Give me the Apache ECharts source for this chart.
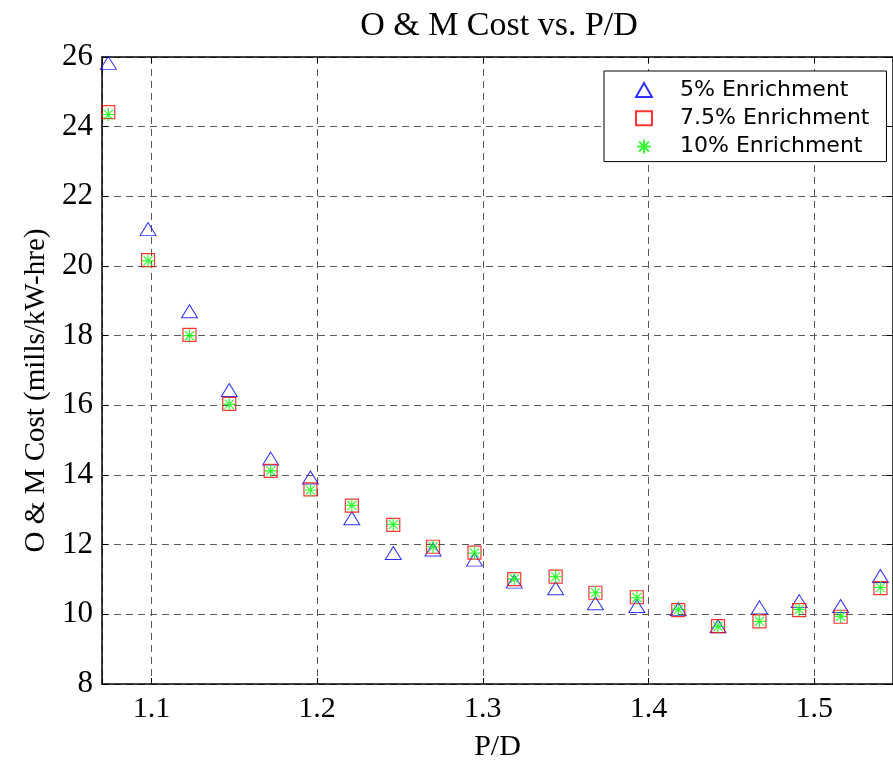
<!DOCTYPE html>
<html>
<head>
<meta charset="utf-8">
<script src="https://cdn.jsdelivr.net/npm/echarts@6/dist/echarts.min.js"></script>
<style>
  html, body { margin: 0; padding: 0; background: #fff; }
  #chart { width: 893px; height: 760px; }
</style>
</head>
<body>
<div id="chart"></div>
<script>
// Pitch-to-diameter ratios of the studied lattices
const pdRatio = [1.074, 1.098, 1.123, 1.147, 1.172, 1.196, 1.221, 1.246, 1.270, 1.295,
                 1.319, 1.344, 1.368, 1.393, 1.418, 1.442, 1.467, 1.491, 1.516, 1.540];

// O & M cost (mills/kW-hre) for each fuel enrichment
const cost5 = [25.83, 21.06, 18.70, 16.44, 14.47, 13.93, 12.76, 11.76, 11.86, 11.57,
               10.94, 10.75, 10.32, 10.24, 10.15, 9.66, 10.20, 10.38, 10.24, 11.10];
const cost75 = [24.42, 20.17, 18.02, 16.04, 14.12, 13.59, 13.12, 12.57, 11.94, 11.77,
                11.01, 11.08, 10.62, 10.49, 10.12, 9.66, 9.80, 10.12, 9.93, 10.75];
const cost10 = [24.35, 20.15, 18.00, 16.03, 14.12, 13.57, 13.13, 12.58, 11.94, 11.76,
                11.02, 11.08, 10.62, 10.48, 10.14, 9.65, 9.80, 10.14, 9.94, 10.77];

const seriesNames = ['5% Enrichment', '7.5% Enrichment', '10% Enrichment'];

// Axis ranges
const xRange = [1.0702, 1.5476];
const yRange = [8, 26];
const yStep = 2;

const pairs = (xs, ys) => xs.map((x, i) => [x, ys[i]]);

const serif = 'Liberation Serif';
const starPath = 'path://M0,5L10,5M5,0L5,10M1.46,1.46L8.54,8.54M8.54,1.46L1.46,8.54';

const gridLine = { show: true, lineStyle: { color: '#5a5a5a', width: 1, type: [7, 5] } };
const tickFmt = v => Math.abs(v * 10 - Math.round(v * 10)) < 1e-6 ? v.toFixed(1) : '';

const chart = echarts.init(document.getElementById('chart'), null, { renderer: 'canvas' });

chart.setOption({
  animation: false,
  backgroundColor: '#fff',
  title: {
    text: 'O & M Cost vs. P/D',
    left: 499,
    textAlign: 'center',
    top: 9,
    padding: 0,
    textStyle: { fontFamily: serif, fontSize: 34, fontWeight: 'normal', color: '#000' }
  },
  grid: { left: 102, right: 0, top: 57, bottom: 76, outerBoundsMode: 'none', containLabel: false },
  legend: {
    orient: 'vertical',
    left: 604,
    top: 71,
    padding: [8, 17, 4, 31],
    itemWidth: 16,
    itemHeight: 14,
    itemGap: 6.3,
    backgroundColor: '#fff',
    borderColor: '#000',
    borderWidth: 1,
    borderRadius: 0,
    data: seriesNames,
    textStyle: {
      fontFamily: 'DejaVu Sans', fontSize: 22, color: '#000',
      lineHeight: 20, padding: [0, 0, 0, 23]
    }
  },
  xAxis: [
    {
      type: 'value',
      min: xRange[0], max: xRange[1],
      splitNumber: 5,
      name: 'P/D',
      nameLocation: 'middle',
      nameGap: 48,
      nameTextStyle: { fontFamily: serif, fontSize: 30, color: '#000' },
      axisLine: { show: true, onZero: false, lineStyle: { color: '#000', width: 1.5 } },
      axisTick: { show: true, inside: true, length: 6, lineStyle: { color: '#000' } },
      axisLabel: { fontFamily: serif, fontSize: 30, color: '#000', margin: 10, formatter: tickFmt },
      splitLine: gridLine
    },
    {
      type: 'value',
      position: 'top',
      min: xRange[0], max: xRange[1],
      splitNumber: 5,
      axisLine: { show: true, onZero: false, lineStyle: { color: '#000', width: 1.5 } },
      axisTick: { show: true, inside: true, length: 6, lineStyle: { color: '#000' } },
      axisLabel: { show: false },
      splitLine: { show: false }
    }
  ],
  yAxis: [
    {
      type: 'value',
      min: yRange[0], max: yRange[1], interval: yStep,
      name: 'O & M Cost (mills/kW-hre)',
      nameLocation: 'middle',
      nameGap: 51,
      nameTextStyle: { fontFamily: serif, fontSize: 29, color: '#000', padding: [0, 40, 0, 0] },
      axisLine: { show: true, onZero: false, lineStyle: { color: '#000', width: 1.5 } },
      axisTick: { show: true, inside: true, length: 6, lineStyle: { color: '#000' } },
      axisLabel: { fontFamily: serif, fontSize: 31, color: '#000', margin: 9 },
      splitLine: gridLine
    },
    {
      type: 'value',
      position: 'right',
      min: yRange[0], max: yRange[1], interval: yStep,
      axisLine: { show: true, onZero: false, lineStyle: { color: '#000', width: 1.5 } },
      axisTick: { show: true, inside: true, length: 6, lineStyle: { color: '#000' } },
      axisLabel: { show: false },
      splitLine: { show: false }
    }
  ],
  series: [
    {
      name: seriesNames[0],
      type: 'scatter',
      symbol: 'triangle',
      symbolSize: [16, 13],
      clip: false,
      itemStyle: { color: 'transparent', borderColor: '#0000ff', borderWidth: 1 },
      data: pairs(pdRatio, cost5)
    },
    {
      name: seriesNames[1],
      type: 'scatter',
      symbol: 'rect',
      symbolSize: 13,
      clip: false,
      itemStyle: { color: 'transparent', borderColor: '#ff0000', borderWidth: 1.2 },
      data: pairs(pdRatio, cost75)
    },
    {
      name: seriesNames[2],
      type: 'scatter',
      symbol: starPath,
      symbolSize: 13,
      clip: false,
      itemStyle: { color: 'transparent', borderColor: '#00ff00', borderWidth: 1.2 },
      data: pairs(pdRatio, cost10)
    }
  ]
});
</script>
</body>
</html>
